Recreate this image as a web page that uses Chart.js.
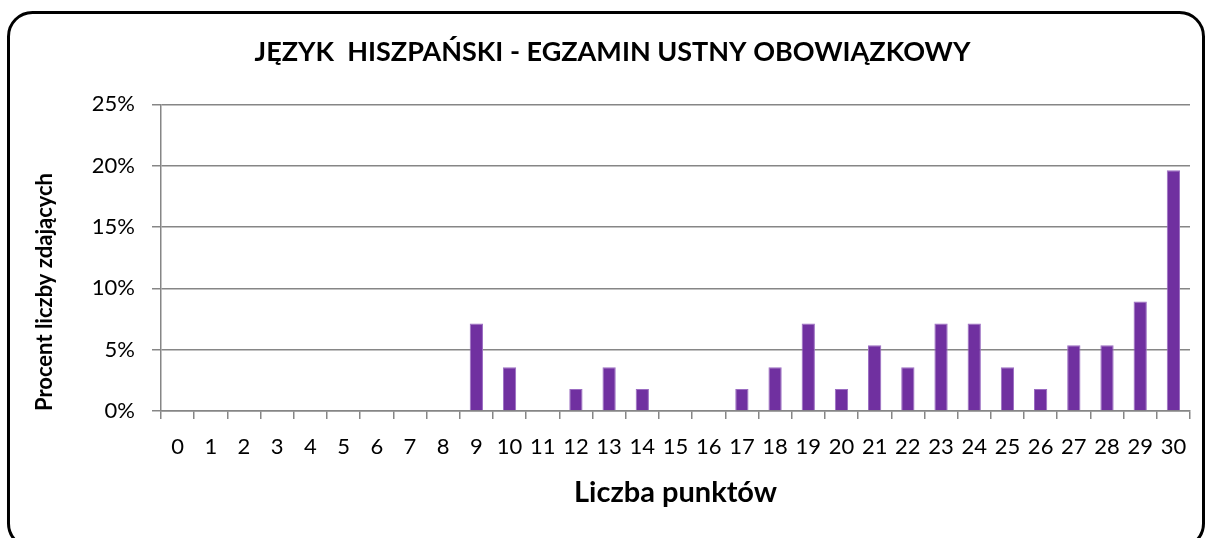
<!DOCTYPE html>
<html>
<head>
<meta charset="utf-8">
<script src="https://cdn.jsdelivr.net/npm/chart.js@4/dist/chart.umd.min.js"></script>
<style>
  html, body { margin: 0; padding: 0; background: #fff; }
  #wrap { position: relative; width: 1207px; height: 538px; }
</style>
</head>
<body>
<div id="wrap"><canvas id="c" width="1207" height="538"></canvas></div>
<script>
const chartTitle = 'JĘZYK  HISZPAŃSKI - EGZAMIN USTNY OBOWIĄZKOWY';
const xAxisTitle = 'Liczba punktów';
const yAxisTitle = 'Procent liczby zdających';
const categories = ['0','1','2','3','4','5','6','7','8','9','10','11','12','13','14','15','16','17','18','19','20','21','22','23','24','25','26','27','28','29','30'];
const percentValues = [0,0,0,0,0,0,0,0,0,7.14,3.57,0,1.79,3.57,1.79,0,0,1.79,3.57,7.14,1.79,5.36,3.57,7.14,7.14,3.57,1.79,5.36,5.36,8.93,19.64];
const yTicks = [0,5,10,15,20,25];

const FONT = 'Lato, "Open Sans", sans-serif';
const GRID = '#868686';

const frame = {
  id: 'frame',
  afterDraw(chart) {
    const ctx = chart.ctx;
    ctx.save();
    ctx.strokeStyle = '#000';
    ctx.lineWidth = 3;
    ctx.beginPath();
    ctx.roundRect(8.5, 12.5, 1195, 535, 24);
    ctx.stroke();
    ctx.restore();
  }
};

new Chart(document.getElementById('c'), {
  type: 'bar',
  data: {
    labels: categories,
    datasets: [{
      data: percentValues,
      backgroundColor: '#7030A0',
      borderColor: '#9B6DC2',
      borderWidth: 1,
      categoryPercentage: 1.0,
      barPercentage: 0.4
    }]
  },
  options: {
    responsive: false,
    animation: false,
    layout: { padding: { left: 35, right: 17, top: 0, bottom: 0 } },
    plugins: {
      legend: { display: false },
      tooltip: { enabled: false },
      title: {
        display: true,
        text: chartTitle,
        color: '#000',
        font: { family: FONT, size: 27, weight: 'bold', lineHeight: 1.2 },
        padding: { top: 36, bottom: 36 }
      }
    },
    scales: {
      x: {
        grid: { display: true, offset: true, drawOnChartArea: false, drawTicks: true, tickLength: 8, color: GRID, lineWidth: 1.5 },
        border: { display: true, color: GRID, width: 1.5 },
        ticks: { color: '#000', font: { family: FONT, size: 22 }, padding: 15, maxRotation: 0, autoSkip: false },
        title: { display: true, text: xAxisTitle, color: '#000', font: { family: FONT, size: 29, weight: 'bold', lineHeight: 1.2 }, padding: { top: 0, bottom: 28 } },
        afterFit(scale) { scale.height = 538 - 411; }
      },
      y: {
        min: 0, max: 25,
        afterBuildTicks(scale) { scale.ticks = yTicks.map(v => ({ value: v })); },
        grid: { color: GRID, lineWidth: 1.5, drawTicks: true, tickLength: 9 },
        border: { display: true, color: GRID, width: 1.5 },
        ticks: { color: '#000', font: { family: FONT, size: 22 }, padding: 17, callback: v => v + '%' },
        title: { display: true, text: yAxisTitle, align: 'start', color: '#000', font: { family: FONT, size: 22, weight: 'bold', lineHeight: 1.2 }, padding: { top: -3, bottom: 0 } },
        afterFit(scale) { scale.width = 161 - 35; }
      }
    }
  },
  plugins: [frame]
});
</script>
</body>
</html>
